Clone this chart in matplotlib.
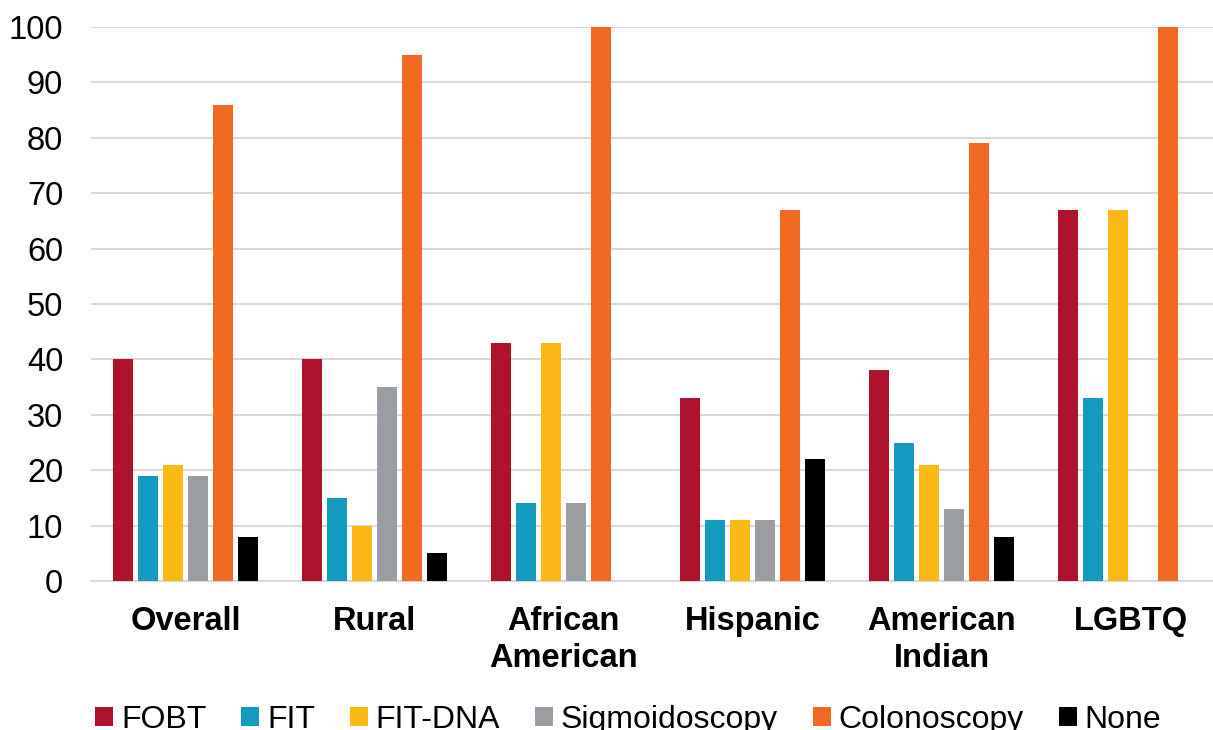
import numpy as np
import matplotlib.pyplot as plt
from matplotlib.patches import Patch

plt.rcParams['font.family'] = ['Liberation Sans', 'DejaVu Sans']

categories = ['Overall', 'Rural', 'African\nAmerican', 'Hispanic', 'American\nIndian', 'LGBTQ']
series = ['FOBT', 'FIT', 'FIT-DNA', 'Sigmoidoscopy', 'Colonoscopy', 'None']
colors = ['#AE122D', '#149CC0', '#FCB815', '#9A9DA2', '#F26A21', '#000000']

fobt = [40, 40, 43, 33, 38, 67]
fit = [19, 15, 14, 11, 25, 33]
fit_dna = [21, 10, 43, 11, 21, 67]
sigmoidoscopy = [19, 35, 14, 11, 13, 0]
colonoscopy = [86, 95, 100, 67, 79, 100]
none = [8, 5, 0, 22, 8, 0]
values = [fobt, fit, fit_dna, sigmoidoscopy, colonoscopy, none]

W, H = 1213, 730
fig = plt.figure(figsize=(W / 100, H / 100), dpi=100)
# plot area runs a little past the right edge of the figure
ax = fig.add_axes([91 / W, 1 - 581 / H, 6 * 189 / W, (581 - 27) / H])

x = np.arange(len(categories))
slot = 25 / 189
width = 20 / 189
for i, (name, vals, c) in enumerate(zip(series, values, colors)):
    ax.bar(x + (i - 2.5) * slot, vals, width, color=c, label=name, zorder=3)

ax.set_xlim(-0.5, len(categories) - 0.5)
ax.set_ylim(0, 100)
ax.set_yticks(range(0, 101, 10))
ax.yaxis.grid(True, color='#D9D9D9', linewidth=1.5, zorder=0)
ax.set_axisbelow(True)
for s in ['top', 'right', 'left']:
    ax.spines[s].set_visible(False)
ax.spines['bottom'].set_color('#D9D9D9')
ax.spines['bottom'].set_linewidth(1.5)
ax.tick_params(axis='y', length=0, labelsize=23.5, pad=20)
ax.tick_params(axis='x', length=0, pad=18)
ax.set_xticks(x)
ax.set_xticklabels(categories, fontsize=23.5, fontweight='bold', linespacing=1.25, va='top')

handles = [Patch(facecolor=c, label=n) for n, c in zip(series, colors)]
fig.legend(handles=handles, loc='lower center', bbox_to_anchor=(0.518, -0.046), ncol=6,
           frameon=False, fontsize=23, handlelength=0.55, handleheight=0.55,
           handletextpad=0.25, columnspacing=1.1)

fig.savefig('out.png', dpi=100)
